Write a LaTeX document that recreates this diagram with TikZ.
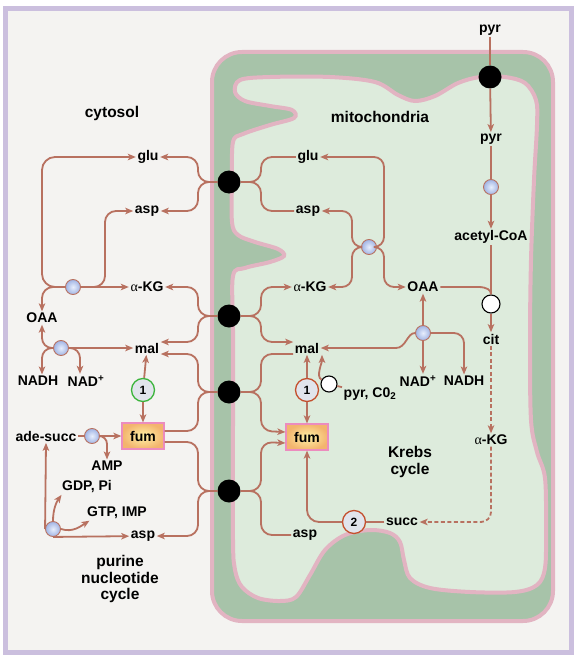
\documentclass[tikz,border=0pt]{standalone}
\usepackage{fontspec}
\setmainfont{Liberation Sans}
\newfontfamily\greekfont{Liberation Serif}
\usetikzlibrary{arrows.meta}

\definecolor{kbrown}{RGB}{184,113,96}
\definecolor{framelilac}{RGB}{203,191,222}
\definecolor{paper}{RGB}{244,243,241}
\definecolor{mempink}{RGB}{226,180,194}
\definecolor{outergreen}{RGB}{167,195,169}
\definecolor{innergreen}{RGB}{221,235,220}
\definecolor{enzin}{RGB}{232,238,252}
\definecolor{enzout}{RGB}{160,180,228}
\definecolor{fumin}{RGB}{255,242,165}
\definecolor{fumout}{RGB}{243,180,110}
\definecolor{fumpink}{RGB}{236,140,190}
\definecolor{numred}{RGB}{196,80,46}
\definecolor{numgreen}{RGB}{60,180,60}
\definecolor{numfill}{RGB}{225,228,236}

\newcommand{\akg}{{\greekfont\mdseries α}-KG}

\begin{document}
\begin{tikzpicture}[x=1pt, y=-1pt,
        lbl/.style={font=\bfseries\fontsize{14}{15}\selectfont, inner sep=1.5pt},
        ttl/.style={font=\bfseries\fontsize{15.5}{16.8}\selectfont, align=center},
        flux/.style={draw=kbrown, line width=1.8pt, -{Stealth[length=8pt,width=6.5pt,inset=2pt]}},
        link/.style={draw=kbrown, line width=1.8pt},
        carrier/.style={circle, fill=black, minimum size=23pt, inner sep=0pt},
        enz/.style={circle, draw=kbrown, line width=0.9pt, inner color=enzin, outer color=enzout, minimum size=15pt, inner sep=0pt},
        wenz/.style={circle, draw=black, line width=1.1pt, fill=white, minimum size=18pt, inner sep=0pt},
        numc/.style={circle, line width=1.3pt, fill=numfill, minimum size=23pt, inner sep=0pt, font=\bfseries\fontsize{12}{12}\selectfont},
        fumbox/.style={rectangle, draw=fumpink, line width=1.2pt, inner color=fumin, outer color=fumout, minimum width=42pt, minimum height=26pt, font=\bfseries\fontsize{14}{15}\selectfont},
        membrane/.style={draw=mempink, line width=4pt}]

    \useasboundingbox (0,0) rectangle (580,661);
    \fill[white] (0,0) rectangle (580,661);
    \draw[framelilac, line width=5pt, fill=paper] (5.5,9) rectangle (571.5,652.5);

    % mitochondrion
    \draw[membrane, fill=outergreen, rounded corners=30] (212,52) rectangle (553,621);
    \draw[membrane, fill=innergreen] plot[smooth cycle, tension=0.55] coordinates {
        (240,80) (270,77) (330,77) (375,82) (398,95) (415,101) (435,96) (458,83) (480,77)
        (505,77) (525,83) (536,100) (537,125) (534,180) (531,260) (530,340) (531,420)
        (537,452) (545,478) (546,530) (545,568) (537,585) (515,592) (470,592) (430,588)
        (410,578) (404,560) (400,542) (390,533) (370,530) (345,535) (325,550) (310,575)
        (296,597) (280,601) (258,598) (242,587) (235,570) (233,540) (233,420) (233,330)
        (233,276) (245,268) (270,262) (284,256) (278,249) (255,242) (238,235) (232,222)
        (232,180) (233,142) (243,134) (270,125) (294,118) (292,110) (270,106) (245,101) (235,92)};

    % titles
    \node[ttl] (cyto) at (112,113) {cytosol};
    \node[ttl] (mito) at (380,117) {mitochondria};
    \node[ttl] (krebs) at (410,462) {Krebs\\cycle};
    \node[ttl] (purine) at (120,579) {purine\\nucleotide\\cycle};

    % carriers
    \node[carrier] (tA) at (229,182) {};
    \node[carrier] (tB) at (229,316) {};
    \node[carrier] (tC) at (229,392) {};
    \node[carrier] (tD) at (229,491) {};
    \node[carrier] (tPyr) at (490,77) {};

    % cytosol
    \node[lbl] (gluc) at (148,157) {glu};
    \node[lbl] (aspc) at (147,211) {asp};
    \node[lbl] (akgc) at (147,287) {\akg};
    \node[lbl] (oaac) at (42,318) {OAA};
    \node[lbl] (malc) at (147,348) {mal};
    \node[lbl] (nadhc) at (38,381) {NADH};
    \node[lbl] (nadc) at (86,381) {NAD\textsuperscript{+}};
    \node[enz] (cast) at (73,287) {};
    \node[enz] (cmdh) at (61,348) {};
    \node[numc, draw=numgreen] (cfh) at (143,390) {1};
    \node[fumbox] (fumc) at (143,436) {fum};
    \node[lbl] (adesucc) at (46,436) {ade-succ};
    \node[enz] (adsl) at (92,436) {};
    \node[lbl] (amp) at (107,466) {AMP};
    \node[lbl] (gdp) at (87,487) {GDP, Pi};
    \node[lbl] (gtp) at (117,513) {GTP, IMP};
    \node[enz] (adss) at (53,529) {};
    \node[lbl] (asp2c) at (143,536) {asp};

    % mitochondria
    \node[lbl] (pyrtop) at (490,30) {pyr};
    \node[lbl] (pyrm) at (491,139) {pyr};
    \node[enz] (pdh) at (491,187) {};
    \node[lbl] (acoa) at (491,237) {acetyl-CoA};
    \node[wenz] (cs) at (491,304) {};
    \node[lbl] (cit) at (491,339) {cit};
    \node[lbl] (akgm2) at (491,440) {\akg};
    \node[lbl] (succ) at (402,522) {succ};
    \node[numc, draw=numred] (sdh) at (354,522) {2};
    \node[lbl] (glum) at (308,157) {glu};
    \node[lbl] (aspm) at (308,211) {asp};
    \node[enz] (mast) at (369,247) {};
    \node[lbl] (akgm) at (310,287) {\akg};
    \node[lbl] (oaam) at (423,287) {OAA};
    \node[enz] (mmdh) at (423,333) {};
    \node[lbl] (malm) at (307,348) {mal};
    \node[lbl] (nadm) at (418,381) {NAD\textsuperscript{+}};
    \node[lbl] (nadhm) at (464,381) {NADH};
    \node[numc, draw=numred] (mfh) at (307,390) {1};
    \node[wenz, minimum size=16pt] (pc) at (329,384) {};
    \node[lbl, anchor=west] (pyrco2) at (342,394) {pyr, C0\textsubscript{2}};
    \node[fumbox] (fumm) at (307,437) {fum};
    \node[lbl] (asp2m) at (305,535) {asp};

    % carrier links
    \begin{scope}[rounded corners=11]
        \draw[flux] (tA.west) -- (198,182) -- (198,157) -- (gluc);
        \draw[flux] (tA.west) -- (198,182) -- (198,211) -- (aspc);
        \draw[link] (tA.east) -- (261,182) -- (261,157) -- (glum);
        \draw[link] (tA.east) -- (261,182) -- (261,211) -- (aspm);
        \draw[flux] (tB.west) -- (198,316) -- (198,287) -- (akgc);
        \draw[flux] (tB.west) -- (198,316) -- (198,342) -- ([yshift=6pt]malc.east);
        \draw[flux] (tB.east) -- (261,316) -- (261,287) -- (akgm);
        \draw[flux] (tB.east) -- (261,316) -- (261,342) -- ([yshift=6pt]malm.west);
        \draw[flux] (tC.west) -- (198,392) -- (198,354) -- ([yshift=-6pt]malc.east);
        \draw[link] ([yshift=5pt]fumc.east) -- (198,431) -- (198,392) -- (tC.west);
        \draw[link] (tC.east) -- (261,392) -- (261,354) -- ([yshift=-6pt]malm.west);
        \draw[flux] (tC.east) -- (261,392) -- (261,431) -- ([yshift=5pt]fumm.west);
        \draw[link] ([yshift=-6pt]fumc.east) -- (198,442) -- (198,491) -- (tD.west);
        \draw[flux] (tD.west) -- (198,491) -- (198,536) -- (asp2c);
        \draw[flux] (tD.east) -- (261,491) -- (261,442) -- ([yshift=-6pt]fumm.west);
        \draw[link] (tD.east) -- (261,491) -- (261,535) -- (asp2m);
    \end{scope}
    \draw[link] (pyrtop) -- (tPyr);
    \draw[flux] (tPyr) -- (pyrm);

    % cytosol reactions
    \draw[flux] (cast) -- (akgc);
    \draw[flux, rounded corners=11] (cast.east) -- (105,287) -- (105,211) -- (aspc);
    \draw[flux, rounded corners=13] (cast.west) -- (42,287) -- (42,157) -- (gluc);
    \draw[flux, rounded corners=11] (cast.west) -- (42,287) -- (oaac);
    \draw[flux] (cmdh) -- (malc);
    \draw[flux, rounded corners=10] (cmdh.west) -- (42,348) -- (oaac);
    \draw[flux, rounded corners=10] (cmdh.west) -- (42,348) -- (oaac |- nadhc.north);
    \draw[flux, rounded corners=10] (cmdh.east) -- (80,348) -- ([xshift=-6pt]nadc.north);
    \draw[flux] (cfh) -- (malc);
    \draw[flux] (cfh) -- (fumc);
    \draw[link] (adesucc) -- (adsl);
    \draw[flux] (adsl) -- (fumc);
    \draw[flux, rounded corners=8] (adsl.east) -- (107,436) -- (amp);
    \draw[flux] (adss.west) -- (adesucc.south);
    \draw[flux] (adss.south) -- (asp2c);
    \draw[flux] (adss.north) .. controls +(0,-12) and +(-5,7) .. ([xshift=1pt]gdp.south west);
    \draw[flux] (adss.east) .. controls +(12,4) and +(-8,5) .. ([xshift=4pt]gtp.south west);

    % mitochondrial reactions
    \draw[flux, rounded corners=10] (mast.east) -- (384,247) -- (384,157) -- (glum);
    \draw[flux, rounded corners=10] (mast.west) -- (352,247) -- (352,211) -- (aspm);
    \draw[flux, rounded corners=10] (mast.west) -- (352,247) -- (352,287) -- (akgm);
    \draw[flux, rounded corners=10] (mast.east) -- (384,247) -- (384,287) -- (oaam);
    \draw[flux] (mmdh) -- (oaam);
    \draw[flux] (mmdh) -- (mmdh |- nadm.north);
    \draw[flux, rounded corners=10] (mmdh.east) -- (464,333) -- (nadhm);
    \draw[flux] (mmdh.west) .. controls +(-8,0) and +(10,0) .. (396,348) -- (malm);
    \draw[link] (pyrm) -- (pdh);
    \draw[flux] (pdh) -- (acoa);
    \draw[link] (oaam) -- (478,287) .. controls (487,287) and (491,290) .. (cs.north);
    \draw[link] (acoa) -- (cs);
    \draw[flux] (cs) -- (cit);
    \draw[flux, dash pattern=on 4pt off 2.5pt] (cit) -- (akgm2);
    \draw[flux, dash pattern=on 4pt off 2.5pt, rounded corners=10] (akgm2) -- (491,522) -- (succ);
    \draw[link] (succ) -- (sdh);
    \draw[flux, rounded corners=12] (sdh) -- (307,522) -- (fumm);
    \draw[flux] (mfh) -- (malm);
    \draw[flux] (mfh) -- (fumm);
    \draw[flux] (pc.150) .. controls +(-6,-3) and +(0,8) .. ([xshift=15pt]malm.south);
    \draw[link] (pc) -- (pyrco2);
\end{tikzpicture}
\end{document}
